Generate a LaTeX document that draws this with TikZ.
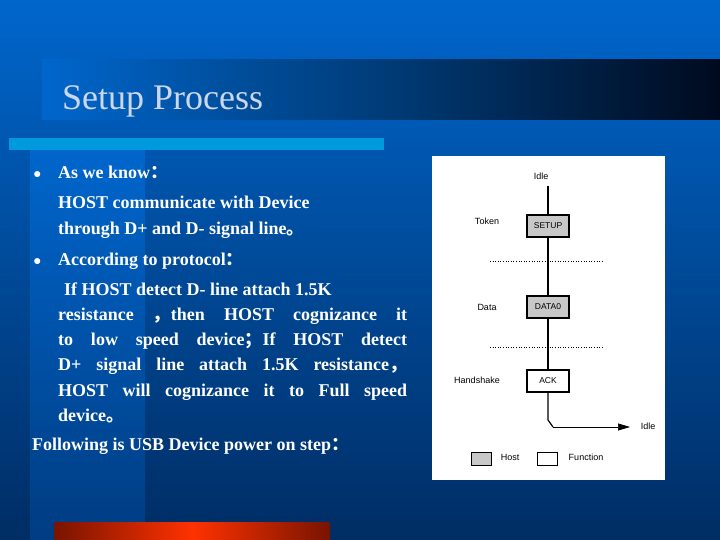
\documentclass[tikz,border=0pt]{standalone}
\usepackage{fontspec}
\setmainfont{Liberation Serif}
\newfontfamily\cjk{Noto Sans CJK SC}
\newfontfamily\arial{Liberation Sans}
\usetikzlibrary{arrows.meta}
\definecolor{bgtop}{RGB}{0,102,204}
\definecolor{bgbot}{RGB}{0,45,100}
\definecolor{bandbot}{RGB}{0,60,130}
\definecolor{tmid}{RGB}{0,60,120}
\definecolor{tend}{RGB}{0,10,30}
\definecolor{titlec}{RGB}{205,215,235}
\definecolor{cyanbar}{RGB}{0,153,221}
\definecolor{dred}{RGB}{120,20,0}
\definecolor{bred}{RGB}{255,50,0}
\definecolor{pktgray}{RGB}{200,200,200}
\begin{document}
\begin{tikzpicture}[x=1pt,y=-1pt,
  txt/.style={anchor=base west,inner sep=0pt,text=white,font=\bfseries\fontsize{18}{20}\selectfont},
  bul/.style={anchor=base west,inner sep=0pt,text=white,font=\fontsize{14}{14}\selectfont},
  lab/.style={font=\arial\fontsize{9}{10}\selectfont,inner sep=0pt},
  pkt/.style={draw,line width=1.2pt,minimum width=42pt,minimum height=22pt,font=\arial\fontsize{8.5}{9}\selectfont,inner sep=0pt},
  dots/.style={dotted,line width=0.6pt}]
\useasboundingbox (0,0) rectangle (720,540);
\shade[top color=bgtop,bottom color=bgbot] (0,0) rectangle (720,540);
\shade[top color=bgtop,bottom color=bandbot] (30,150) rectangle (145,540);
\shade[left color=bgtop,right color=tend,middle color=tmid] (42,60) rectangle (720,120);
\node[anchor=base west,inner sep=0pt,text=titlec,font=\fontsize{36}{36}\selectfont] (title) at (62,110) {Setup Process};
\fill[cyanbar] (9,138) rectangle (384,150);
\shade[left color=dred,right color=dred,middle color=bred] (54,522) rectangle (330,540);
% text
\node[bul] (b1) at (33,179) {●};
\node[bul] (b2) at (33,265) {●};
\node[txt] (l1) at (58,179) {As we know{\cjk ：}};
\node[txt] (l2) at (58,209) {HOST communicate with Device};
\node[txt] (l3) at (58,234) {through D+ and D- signal line{\cjk 。}};
\node[txt] (l4) at (58,265) {According to protocol{\cjk ：}};
\node[txt] (l5) at (64,295) {If HOST detect D- line attach 1.5K};
\node[txt] (l6) at (58,320) {\makebox[349pt][s]{resistance {\cjk ，}then HOST cognizance it}};
\node[txt] (l7) at (58,345) {\makebox[349pt][s]{to low speed device{\cjk ；}If HOST detect}};
\node[txt] (l8) at (58,370) {\makebox[349pt][s]{D+ signal line attach 1.5K resistance{\cjk ，}}};
\node[txt] (l9) at (58,396) {\makebox[349pt][s]{HOST will cognizance it to Full speed}};
\node[txt] (l10) at (58,421) {device{\cjk 。}};
\node[txt] (l11) at (32,450) {Following is USB Device power on step{\cjk ：}};
% panel
\fill[white] (432,156) rectangle (665,480);
\node[lab] (idle1) at (541,176) {Idle};
\node[pkt,fill=pktgray] (setup) at (548,226) {SETUP};
\node[pkt,fill=pktgray] (data) at (548,307) {DATA0};
\node[pkt,fill=white] (ack) at (548,381) {ACK};
\node[lab] (token) at (487,221) {Token};
\node[lab] (dlab) at (487,307) {Data};
\node[lab] (hs) at (477,380) {Handshake};
\node[lab] (idle2) at (648,426) {Idle};
\coordinate (c0) at (548,186);
\coordinate (c1) at (548,420);
\coordinate (c2) at (553,427);
\coordinate (c3) at (630,427);
\draw[line width=1.2pt] (c0) -- (setup.north);
\draw[line width=1.2pt] (setup.south) -- (data.north);
\draw[line width=1.2pt] (data.south) -- (ack.north);
\draw[line width=1.2pt] (ack.south) -- (c1) -- (c2);
\draw[line width=0.7pt,-{Triangle[length=12pt,width=7pt]}] (c2) -- (c3);
\coordinate (d1) at (490,261); \coordinate (d2) at (602,261);
\coordinate (d3) at (490,347); \coordinate (d4) at (602,347);
\draw[dots] (d1) -- (d2);
\draw[dots] (d3) -- (d4);
\node[draw,line width=1pt,fill=pktgray,minimum width=20pt,minimum height=13pt,inner sep=0pt] (hostbox) at (481,458.5) {};
\node[lab] (host) at (510,457) {Host};
\node[draw,line width=1pt,fill=white,minimum width=20pt,minimum height=13pt,inner sep=0pt] (funcbox) at (547,458.5) {};
\node[lab] (func) at (586,457) {Function};
\end{tikzpicture}
\end{document}
